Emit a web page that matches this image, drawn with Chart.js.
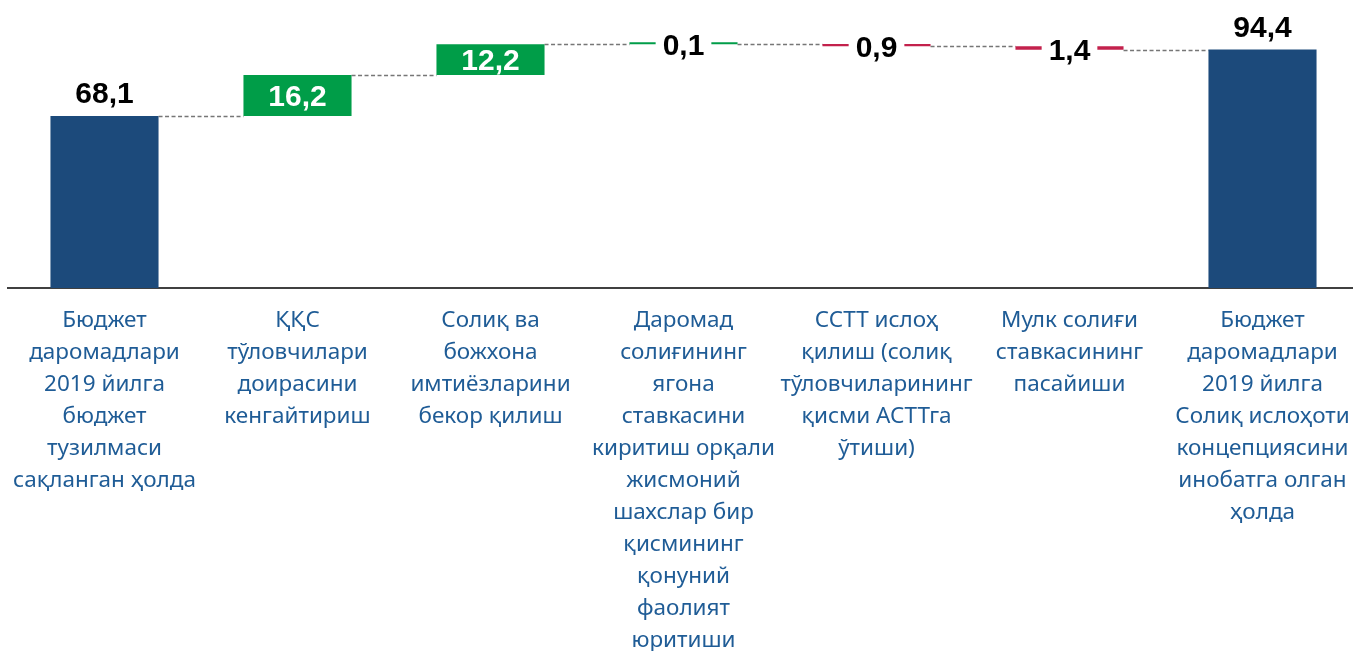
<!DOCTYPE html>
<html>
<head>
<meta charset="utf-8">
<script src="https://cdn.jsdelivr.net/npm/chart.js@4.4.1/dist/chart.umd.min.js"></script>
<style>
  html, body { margin: 0; padding: 0; background: #fff; overflow: hidden; }
</style>
</head>
<body>
<canvas id="waterfall" width="1360" height="651"></canvas>
<script>
// categories (each one wrapped into lines as in the source slide)
const categories = [
  ['Бюджет', 'даромадлари', '2019 йилга', 'бюджет', 'тузилмаси', 'сақланган ҳолда'],
  ['ҚҚС', 'тўловчилари', 'доирасини', 'кенгайтириш'],
  ['Солиқ ва', 'божхона', 'имтиёзларини', 'бекор қилиш'],
  ['Даромад', 'солиғининг', 'ягона', 'ставкасини', 'киритиш орқали', 'жисмоний', 'шахслар бир', 'қисмининг', 'қонуний', 'фаолият', 'юритиши'],
  ['ССТТ ислоҳ', 'қилиш (солиқ', 'тўловчиларининг', 'қисми АСТТга', 'ўтиши)'],
  ['Мулк солиғи', 'ставкасининг', 'пасайиши'],
  ['Бюджет', 'даромадлари', '2019 йилга', 'Солиқ ислоҳоти', 'концепциясини', 'инобатга олган', 'ҳолда']
];
// totals are absolute values, the rest are changes
const values = [68.1, 16.2, 12.2, 0.1, -0.9, -1.4, 94.4];
const kinds = ['total', 'step', 'step', 'step', 'step', 'step', 'total'];

const BLUE = '#1c4a7b';
const GREEN = '#009d48';
const RED = '#c3214c';

// floating ranges for the bars, built from the values
let running = 0;
const ranges = [];
const ends = [];
values.forEach((v, i) => {
  if (kinds[i] === 'total') {
    ranges.push([0, v]);
    running = v;
  } else {
    ranges.push([running, running + v]);
    running = running + v;
  }
  ends.push(running);
});
const colors = values.map((v, i) => kinds[i] === 'total' ? BLUE : (v >= 0 ? GREEN : RED));

const fmt = v => Math.abs(v).toFixed(1).replace('.', ',');

// dashed connectors between neighbouring bars
const connectors = {
  id: 'connectors',
  beforeDatasetsDraw(chart) {
    const ctx = chart.ctx;
    const bars = chart.getDatasetMeta(0).data;
    const y = chart.scales.y;
    ctx.save();
    ctx.strokeStyle = '#767676';
    ctx.lineWidth = 1.5;
    ctx.setLineDash([4, 2.5]);
    for (let i = 0; i < bars.length - 1; i++) {
      const py = Math.round(y.getPixelForValue(ends[i])) + 0.5;
      ctx.beginPath();
      ctx.moveTo(bars[i].x + bars[i].width / 2, py);
      ctx.lineTo(bars[i + 1].x - bars[i + 1].width / 2, py);
      ctx.stroke();
    }
    ctx.restore();
  }
};

// value labels
const valueLabels = {
  id: 'valueLabels',
  afterDatasetsDraw(chart) {
    const ctx = chart.ctx;
    const bars = chart.getDatasetMeta(0).data;
    ctx.save();
    ctx.font = 'bold 30px "Liberation Sans", Arial, sans-serif';
    ctx.textAlign = 'center';
    ctx.textBaseline = 'middle';
    bars.forEach((bar, i) => {
      const txt = fmt(values[i]);
      const top = Math.min(bar.y, bar.base);
      const h = Math.abs(bar.base - bar.y);
      if (kinds[i] === 'total') {
        ctx.fillStyle = '#000';
        ctx.fillText(txt, bar.x, top - 21);
      } else if (h > 28) {
        ctx.fillStyle = '#fff';
        ctx.fillText(txt, bar.x, top + h / 2 + 2.5);
      } else {
        const w = ctx.measureText(txt).width + 14;
        const cy = top + h / 2 + 3.5;
        ctx.fillStyle = '#fff';
        ctx.fillRect(bar.x - w / 2, cy - 16, w, 30);
        ctx.fillStyle = '#000';
        ctx.fillText(txt, bar.x, cy);
      }
    });
    ctx.restore();
  }
};

new Chart(document.getElementById('waterfall').getContext('2d'), {
  type: 'bar',
  data: {
    labels: categories,
    datasets: [{
      data: ranges,
      backgroundColor: colors,
      borderWidth: 0,
      barPercentage: 0.56,
      categoryPercentage: 1,
      minBarLength: 2
    }]
  },
  options: {
    responsive: false,
    animation: false,
    layout: { padding: { left: 8, right: 1, top: 0, bottom: 0 } },
    plugins: {
      legend: { display: false },
      tooltip: { enabled: false }
    },
    scales: {
      x: {
        grid: { display: false, drawTicks: false },
        border: { display: true, color: '#404040', width: 2 },
        ticks: {
          autoSkip: false,
          maxRotation: 0,
          minRotation: 0,
          padding: 17,
          color: '#1f5c96',
          font: { family: '"Noto Sans", "Open Sans", sans-serif', size: 22.5, lineHeight: '32px' }
        },
        afterFit(scale) {
          scale.height = 363;
          scale.paddingLeft = 0;
          scale.paddingRight = 0;
        }
      },
      y: {
        display: false,
        min: 0,
        max: 114
      }
    }
  },
  plugins: [connectors, valueLabels]
});
</script>
</body>
</html>
